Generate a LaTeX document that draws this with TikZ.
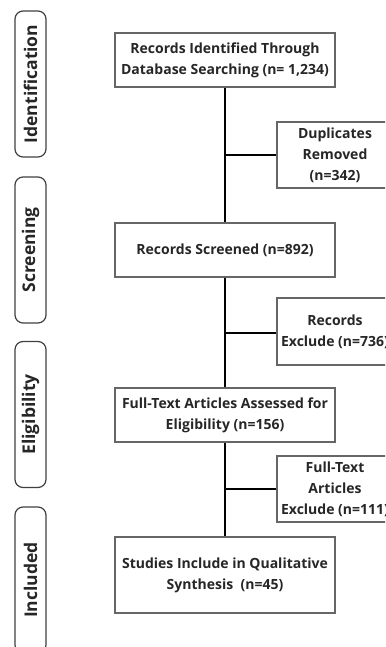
\documentclass[tikz,border=0pt]{standalone}
\usepackage{fontspec}
\setmainfont{Open Sans}
\tikzset{
    stage/.style={draw=black!75,line width=1.2pt,rounded corners=8pt},
    stagetext/.style={rotate=90,font=\fontsize{17.5}{20}\selectfont\bfseries,text=black!85},
    mainbox/.style={draw=black!60,line width=1.2pt,minimum width=220pt,inner sep=2pt,
        align=center,font=\fontsize{14}{21}\selectfont\bfseries,text=black!85},
    sidebox/.style={draw=black!60,line width=1.2pt,minimum width=116pt,minimum height=66pt,
        inner sep=2pt,align=center,font=\fontsize{14}{21}\selectfont\bfseries,text=black!85},
    link/.style={line width=1.6pt,black}
}
\begin{document}
\begin{tikzpicture}[x=1pt,y=-1pt]
        \useasboundingbox (0,0) rectangle (385,647);
        \clip (0,0) rectangle (385,647);
        % stages on the left
        \foreach \y/\lbl in {84/Identification,250/Screening,414.5/Eligibility,580/Included}{
            \draw[stage] (15,\y-73) rectangle (46,\y+73);
            \node[stagetext] (st-\lbl) at (30.5,\y) {\lbl};
        }
        % main column
        \node[mainbox,minimum height=54pt] (rec) at (225,60)
            {Records Identified Through\\Database Searching (n= 1,234)};
        \node[mainbox,minimum height=54pt] (scr) at (225,250)
            {Records Screened (n=892)};
        \node[mainbox,minimum height=54pt] (full) at (225,415)
            {Full-Text Articles Assessed for\\Eligibility (n=156)};
        \node[mainbox,minimum height=76pt] (stud) at (225,575)
            {Studies Include in Qualitative\\Synthesis~ (n=45)};
        % excluded
        \node[sidebox] (dup) at (335,155) {Duplicates\\Removed\\(n=342)};
        \node[sidebox,minimum height=67pt] (rex) at (335,331.5) {Records\\Exclude (n=736)};
        \node[sidebox] (fex) at (335,489) {Full-Text\\Articles\\Exclude (n=111)};
        % connectors
        \draw[link] (rec) -- (scr);
        \draw[link] (scr) -- (full);
        \draw[link] (full) -- (stud);
        \draw[link] (rec.south |- dup.west) -- (dup.west);
        \draw[link] (scr.south |- 0,333) -- (rex.west |- 0,333);
        \draw[link] (full.south |- fex.west) -- (fex.west);
    \end{tikzpicture}
\end{document}
